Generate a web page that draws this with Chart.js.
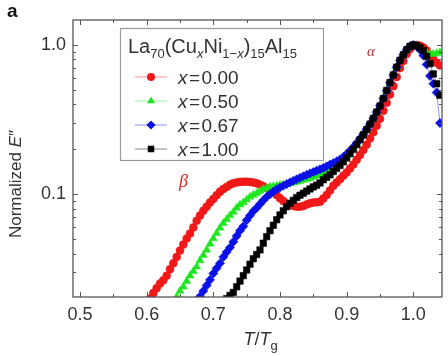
<!DOCTYPE html>
<html><head><meta charset="utf-8">
<script src="https://cdn.jsdelivr.net/npm/chart.js@4/dist/chart.umd.min.js"></script>
<style>html,body{margin:0;padding:0;background:#fff}</style>
</head><body>
<canvas id="c" width="448" height="356" style="width:448px;height:356px;display:block"></canvas>
<script>
// ---- data ----
const T = [0.600,0.605,0.610,0.615,0.620,0.625,0.630,0.635,0.640,0.645,0.650,0.655,0.660,0.665,0.670,0.675,0.680,0.685,0.690,0.695,
0.700,0.705,0.710,0.715,0.720,0.725,0.730,0.735,0.740,0.745,0.750,0.755,0.760,0.765,0.770,0.775,0.780,0.785,0.790,0.795,
0.800,0.805,0.810,0.815,0.820,0.825,0.830,0.835,0.840,0.845,0.850,0.855,0.860,0.865,0.870,0.875,0.880,0.885,0.890,0.895,
0.900,0.905,0.910,0.915,0.920,0.925,0.930,0.935,0.940,0.945,0.950,0.955,0.960,0.965,0.970,0.975,0.980,0.985,0.990,0.995,
1.000,1.005,1.010,1.015,1.020,1.025,1.030,1.035,1.040];

const seriesLabels = ['x=0.00','x=0.50','x=0.67','x=1.00'];
const seriesColors = ['#f01818','#1ee61e','#0a10e8','#000000'];
const seriesMarkers = ['circle','triangle','rectRot','rect'];

const red = [0.0185,0.0200,0.0218,0.0235,0.0252,0.0265,0.0285,0.0315,0.0345,0.0380,0.0420,0.0460,0.0505,0.0545,0.0600,0.0665,0.0720,0.0775,0.0826,0.0880,
0.0930,0.0985,0.1040,0.1085,0.1120,0.1160,0.1185,0.1200,0.1210,0.1215,0.1215,0.1210,0.1200,0.1185,0.1160,0.1130,0.1100,0.1070,0.1030,0.0990,
0.0940,0.0900,0.0865,0.0848,0.0835,0.0826,0.0826,0.0835,0.0855,0.0870,0.0880,0.0885,0.0890,
0.0935,0.0990,0.1060,0.1140,0.1200,0.1260,0.1330,0.1400,0.1490,0.1580,0.1700,0.1830,0.1980,0.2150,0.2360,0.2600,0.2880,0.3200,0.3620,0.4100,
0.4650,0.5300,0.6100,0.7000,0.7800,0.8700,0.9400,0.9900,1.0000,0.9900,0.9600,0.9200,0.8600,0.8000,0.7600,0.7300];

const green = [null,null,null,null,null,null,null,null,
0.0190,0.0205,0.0225,0.0240,0.0262,0.0285,0.0305,0.0327,0.0360,0.0390,0.0424,0.0465,0.0505,0.0548,0.0595,0.0640,0.0680,0.0720,0.0760,0.0810,
0.0850,0.0880,0.0920,0.0960,0.0990,0.1016,0.1050,0.1080,0.1100,0.1120,0.1130,0.1140,0.1150,0.1155,0.1170,0.1180,0.1195,0.1210,0.1225,0.1245,
0.1260,0.1280,0.1305,0.1330,0.1355,
0.1390,0.1430,0.1480,0.1530,0.1580,0.1640,0.1720,0.1810,0.1920,0.2040,0.2180,0.2340,0.2520,0.2720,0.2950,0.3220,0.3550,0.3920,0.4380,0.4950,
0.5600,0.6300,0.7100,0.7900,0.8600,0.9300,0.9800,1.0000,0.9900,0.9500,0.9100,0.8800,0.8700,0.8700,0.8800,0.8900];

const blue = [null,null,null,null,null,null,null,null,null,null,null,null,null,null,null,
0.0190,0.0207,0.0225,0.0245,0.0267,0.0295,0.0320,0.0345,0.0380,0.0410,
0.0440,0.0480,0.0525,0.0570,0.0610,0.0670,0.0720,0.0770,0.0810,0.0860,
0.0910,0.0960,0.1000,0.1040,0.1080,0.1110,0.1140,0.1170,0.1200,0.1230,
0.1260,0.1290,0.1320,0.1350,0.1380,0.1410,0.1440,0.1470,
0.1500,0.1540,0.1580,0.1620,0.1660,0.1710,0.1780,0.1860,0.1960,0.2070,0.2200,0.2360,0.2530,0.2730,0.2960,0.3230,0.3550,0.3920,0.4380,0.4950,
0.5600,0.6300,0.7100,0.7900,0.8600,0.9300,0.9800,1.0000,0.9800,0.9300,0.8500,0.7400,0.6200,0.5500,0.4800,0.3000];

const black = [null,null,null,null,null,null,null,null,null,null,null,null,null,null,null,null,null,null,null,null,null,null,null,
0.0190,0.0200,0.0210,0.0220,0.0240,0.0262,0.0285,0.0311,0.0340,0.0370,
0.0395,0.0424,0.0470,0.0520,0.0570,0.0620,0.0675,0.0727,0.0775,0.0825,
0.0870,0.0910,0.0950,0.0985,0.1016,0.1050,0.1085,0.1120,0.1150,0.1190,
0.1250,0.1300,0.1350,0.1420,0.1490,0.1560,0.1650,0.1750,0.1870,0.2000,0.2150,0.2320,0.2500,0.2710,0.2950,0.3220,0.3550,0.3900,0.4380,0.4950,
0.5600,0.6300,0.7100,0.7900,0.8600,0.9300,0.9800,1.0000,0.9900,0.9600,0.9200,0.8400,0.7500,0.6400,0.5500,0.4600];

const xTicks = [0.5,0.6,0.7,0.8,0.9,1.0];
const xTickLabels = ['0.5','0.6','0.7','0.8','0.9','1.0'];
const xMinorTicks = [0.55,0.65,0.75,0.85,0.95];
const yTicks = [0.1,1];
const yTickLabels = ['0.1','1.0'];
const yMinorTicks = [0.03,0.04,0.05,0.06,0.07,0.08,0.09,0.2,0.3,0.4,0.5,0.6,0.7,0.8,0.9];

const FONT = '"Liberation Sans", Arial, Helvetica, sans-serif';
const TXT = '#333333';
const FRAME = '#555555';

function hexA(hex, a){
  const n = parseInt(hex.slice(1),16);
  return `rgba(${(n>>16)&255},${(n>>8)&255},${n&255},${a})`;
}
function makeData(vals){
  return T.map((t,i)=> vals[i]==null ? null : {x:t, y:vals[i]}).filter(Boolean);
}
const allSeries = [red, green, blue, black];
const radii = [4, 4.6, 4.6, 4.6];

const datasets = allSeries.map((vals,k)=>({
  label: seriesLabels[k],
  data: makeData(vals),
  showLine: true,
  borderColor: hexA(seriesColors[k],0.45),
  borderWidth: 1,
  backgroundColor: seriesColors[k],
  pointBackgroundColor: seriesColors[k],
  pointBorderColor: seriesColors[k],
  pointBorderWidth: 0.5,
  pointStyle: seriesMarkers[k],
  pointRadius: radii[k],
  order: 4-k,
  clip: 0
}));

function marker(ctx, style, x, y, r, color){
  ctx.fillStyle = color; ctx.beginPath();
  if(style==='circle'){ ctx.arc(x,y,r,0,Math.PI*2); }
  else if(style==='triangle'){ ctx.moveTo(x,y-r); ctx.lineTo(x+r*0.866,y+r*0.5); ctx.lineTo(x-r*0.866,y+r*0.5); ctx.closePath(); }
  else if(style==='rectRot'){ ctx.moveTo(x,y-r); ctx.lineTo(x+r,y); ctx.lineTo(x,y+r); ctx.lineTo(x-r,y); ctx.closePath(); }
  else { const s=r*Math.SQRT1_2; ctx.rect(x-s,y-s,2*s,2*s); }
  ctx.fill();
}

function drawSegs(ctx, segs, x, y, size, subSize, subDy){
  let cx = x;
  for(const s of segs){
    const fs = s.sub ? subSize : size;
    ctx.font = `${s.it?'italic ':''}${fs}px ${FONT}`;
    ctx.fillText(s.t, cx, y + (s.sub ? subDy : 0));
    cx += ctx.measureText(s.t).width;
  }
  return cx - x;
}
function segWidth(ctx, segs, size, subSize){
  let w = 0;
  for(const s of segs){
    const fs = s.sub ? subSize : size;
    ctx.font = `${s.it?'italic ':''}${fs}px ${FONT}`;
    w += ctx.measureText(s.t).width;
  }
  return w;
}

const decor = {
  id:'decor',
  afterDraw(chart){
    const ctx = chart.ctx, a = chart.chartArea;
    const xs = chart.scales.x, ys = chart.scales.y;
    ctx.save();
    // ticks (inward, all sides)
    ctx.strokeStyle = FRAME; ctx.lineWidth = 1;
    ctx.beginPath();
    const tick = (px, len, vertical)=>{
      if(vertical){ ctx.moveTo(px+0.5,a.bottom); ctx.lineTo(px+0.5,a.bottom-len); ctx.moveTo(px+0.5,a.top); ctx.lineTo(px+0.5,a.top+len); }
      else { ctx.moveTo(a.left,px+0.5); ctx.lineTo(a.left+len,px+0.5); ctx.moveTo(a.right,px+0.5); ctx.lineTo(a.right-len,px+0.5); }
    };
    xTicks.forEach(v=>tick(Math.round(xs.getPixelForValue(v)),5,true));
    xMinorTicks.forEach(v=>tick(Math.round(xs.getPixelForValue(v)),3,true));
    yTicks.forEach(v=>tick(Math.round(ys.getPixelForValue(v)),5,false));
    yMinorTicks.forEach(v=>tick(Math.round(ys.getPixelForValue(v)),3,false));
    ctx.stroke();
    // frame
    ctx.lineWidth = 1.3;
    ctx.strokeRect(a.left, a.top, a.right-a.left, a.bottom-a.top);

    // legend box
    const lx=120, ly=28, lw=203, lh=132;
    ctx.fillStyle='#fff'; ctx.fillRect(lx,ly,lw,lh);
    ctx.strokeStyle='#9a9a9a'; ctx.lineWidth=1.2; ctx.strokeRect(lx+0.5,ly+0.5,lw,lh);
    ctx.fillStyle = TXT; ctx.textBaseline='alphabetic'; ctx.textAlign='left';
    drawSegs(ctx,[{t:'La'},{t:'70',sub:true},{t:'(Cu'},{t:'x',sub:true,it:true},{t:'Ni'},{t:'1\u2212',sub:true},{t:'x',sub:true,it:true},{t:')'},{t:'15',sub:true},{t:'Al'},{t:'15',sub:true}],
      128, 53, 20, 13, 5);
    const rowY = [77,101,125,149];
    chart.data.datasets.forEach((ds,k)=>{
      const y = rowY[k];
      ctx.strokeStyle = hexA(seriesColors[k],0.4); ctx.lineWidth=1.2;
      ctx.beginPath(); ctx.moveTo(135,y); ctx.lineTo(167,y); ctx.stroke();
      marker(ctx, seriesMarkers[k], 151, y, radii[k], seriesColors[k]);
      const parts = ds.label.split('=');
      ctx.fillStyle = TXT;
      ctx.font = `italic 19px ${FONT}`;
      ctx.fillText(parts[0], 178, y+7);
      let cx = 178 + ctx.measureText(parts[0]).width + 1.5;
      ctx.font = `19px ${FONT}`;
      ctx.fillText('=', cx, y+7);
      cx += ctx.measureText('=').width + 1.5;
      ctx.fillText(parts[1], cx, y+7);
    });

    // axis titles
    ctx.fillStyle = TXT;
    const yt = [{t:'Normalized '},{t:'E',it:true},{t:'\u2033'}];
    const yw = segWidth(ctx, yt, 17, 12);
    ctx.save(); ctx.translate(21, 184); ctx.rotate(-Math.PI/2);
    drawSegs(ctx, yt, -yw/2, 0, 17, 12, 0);
    ctx.restore();
    const xt = [{t:'T',it:true},{t:'/'},{t:'T',it:true},{t:'g',sub:true}];
    const xw = segWidth(ctx, xt, 18, 13);
    drawSegs(ctx, xt, (a.left+a.right)/2 + 3 - xw/2, 345, 18, 13, 5);

    // panel letter
    ctx.font = `bold 19px ${FONT}`; ctx.fillStyle='#111';
    ctx.fillText('a', 7, 17);
    // Greek annotations
    ctx.font = 'italic 18px "Liberation Serif", "DejaVu Serif", serif';
    ctx.fillStyle = '#e82020';
    ctx.fillText('\u03b2', 179, 187);
    ctx.font = 'italic 15px "Liberation Serif", "DejaVu Serif", serif';
    ctx.fillStyle = '#a83232';
    ctx.fillText('\u03b1', 367, 56);
    ctx.restore();
  }
};

new Chart(document.getElementById('c'), {
  type:'scatter',
  data:{ datasets },
  options:{
    responsive:false, animation:false, devicePixelRatio:1,
    layout:{ padding:{ top:20, right:6, left:0, bottom:0 } },
    plugins:{ legend:{display:false}, tooltip:{enabled:false} },
    scales:{
      x:{
        type:'linear', min:0.4895, max:1.043,
        afterBuildTicks:(s)=>{ s.ticks = xTicks.map(v=>({value:v})); },
        afterFit:(s)=>{ s.height = 59; },
        ticks:{ autoSkip:false, maxRotation:0, padding:7, color:TXT, font:{family:FONT,size:18},
          callback:(v)=>{ const i = xTicks.findIndex(t=>Math.abs(t-v)<1e-9); return i>=0 ? xTickLabels[i] : ''; } },
        grid:{ display:false, drawTicks:false },
        border:{ display:false }
      },
      y:{
        type:'logarithmic', min:0.0205, max:1.47,
        afterBuildTicks:(s)=>{ s.ticks = yTicks.map(v=>({value:v})); },
        afterFit:(s)=>{ s.width = 73; },
        ticks:{ autoSkip:false, padding:7, color:TXT, font:{family:FONT,size:18},
          callback:(v)=>{ const i = yTicks.findIndex(t=>Math.abs(t-v)<1e-9); return i>=0 ? yTickLabels[i] : ''; } },
        grid:{ display:false, drawTicks:false },
        border:{ display:false }
      }
    }
  },
  plugins:[decor]
});
</script>
</body></html>
